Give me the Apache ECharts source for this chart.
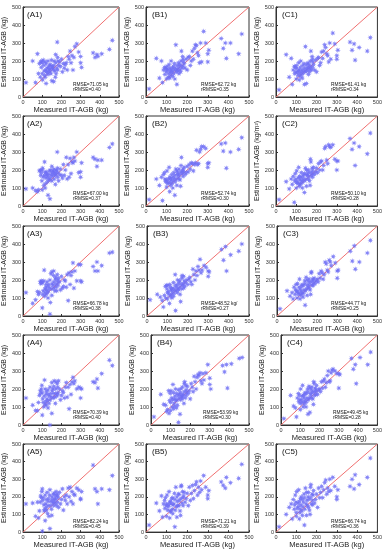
<!DOCTYPE html>
<html>
<head>
<meta charset="utf-8">
<script src="https://cdn.jsdelivr.net/npm/echarts@6/dist/echarts.min.js"></script>
<style>html,body{margin:0;padding:0;background:#fff}#c{width:385px;height:550px}</style>
</head>
<body>
<div id="c"></div>
<script>
// Measured IT-AGB (kg), shared by all panels
const measured = [15,50,65,75,80,85,90,92,95,98,
100,100,102,105,108,110,112,115,115,118,
120,120,122,125,128,130,130,132,135,138,
140,140,142,145,148,150,150,152,155,158,
160,160,162,165,168,170,170,172,175,178,
180,180,182,185,190,195,200,205,210,215,
220,225,230,235,240,245,250,255,260,265,
270,280,290,300,300,305,365,375,385,390,
410,450,465];

const estA1 = [80,200,80,240,130,185,110,195,165,200,
190,130,95,205,175,145,120,195,110,150,
75,185,140,160,135,200,125,165,150,175,
140,155,180,130,205,160,90,170,165,150,
85,175,200,145,110,235,190,130,160,305,
150,220,200,175,195,170,210,140,185,160,
180,190,150,225,210,255,190,230,150,220,
280,295,250,225,190,165,245,220,235,225,
240,265,315];
const estA2 = [95,100,85,80,90,195,200,170,185,140,
200,90,210,160,115,170,245,100,185,125,
190,155,170,180,135,60,175,160,145,195,
40,150,200,175,165,220,140,185,195,170,
190,205,150,180,120,180,170,200,195,300,
210,160,185,140,175,205,170,155,230,170,
200,270,150,230,160,265,180,245,240,270,
250,300,185,190,160,240,270,260,220,255,
255,325,345];
const estA3 = [130,70,90,135,120,130,190,180,195,185,
45,185,120,140,195,255,110,150,130,160,
175,120,145,190,130,165,100,140,175,155,
10,200,75,235,150,245,115,180,170,225,
155,250,190,140,205,175,215,160,140,230,
185,200,170,210,190,145,220,155,165,200,
195,160,230,85,240,175,225,245,295,155,
250,195,285,285,195,190,275,250,300,250,
280,350,355];
const estA4 = [150,110,80,80,125,165,190,175,200,220,
55,180,145,125,100,160,250,115,200,130,
170,110,185,145,135,195,95,170,120,160,
0,210,140,175,155,235,65,190,200,150,
175,215,245,155,120,200,175,240,160,230,
170,210,180,245,200,140,165,190,180,150,
210,235,155,210,90,225,170,240,265,230,
245,200,210,150,205,200,240,235,255,205,
285,360,330];
const estA5 = [160,165,90,170,80,120,170,205,195,230,
5,245,180,195,155,120,130,65,210,160,
140,185,125,225,105,175,150,190,90,210,
20,240,150,175,130,200,95,185,165,215,
175,150,220,190,165,205,185,230,150,215,
205,170,195,140,225,160,185,245,125,200,
180,210,160,250,200,255,175,230,160,215,
210,250,240,185,190,230,380,245,230,160,
245,240,320];
const estB1 = [45,215,105,200,80,150,165,125,160,140,
155,100,170,150,110,130,180,105,160,140,
150,120,200,135,160,115,145,170,130,185,
100,160,150,290,140,175,70,155,145,190,
165,130,180,150,140,200,175,255,160,225,
210,170,195,185,160,210,150,220,225,175,
200,255,210,270,290,285,245,230,190,300,
195,365,300,240,195,260,325,270,300,215,
300,240,350];
const estB2 = [35,150,115,160,30,175,185,150,135,145,
140,105,195,125,130,150,215,80,160,130,
145,115,155,175,125,140,100,160,185,150,
60,170,135,205,150,195,115,175,185,165,
150,205,175,145,110,225,190,270,180,195,
205,165,190,215,175,185,220,190,230,205,
240,235,195,230,240,310,230,235,300,315,
330,330,320,235,215,240,345,305,350,210,
300,315,380];
const estB3 = [90,120,105,85,50,115,165,100,170,150,
130,95,170,135,120,70,175,110,160,145,
120,150,100,135,155,110,185,125,145,230,
30,170,140,160,130,175,200,150,145,185,
160,195,120,80,175,210,150,225,170,180,
220,155,195,165,185,200,175,205,215,190,
175,260,230,200,250,225,275,255,315,240,
255,280,270,250,220,245,370,310,385,250,
340,360,400];
const estB4 = [45,170,115,110,75,85,190,65,135,175,
125,80,190,150,100,140,225,90,180,120,
145,105,160,200,135,95,175,140,110,165,
15,195,150,170,60,180,140,200,160,155,
145,210,170,165,120,230,185,240,150,220,
165,195,180,215,175,190,145,230,210,185,
270,240,200,265,280,275,290,245,230,285,
250,290,335,260,225,200,330,295,335,205,
340,370,375];
const estB5 = [40,165,120,205,85,160,180,135,195,150,
160,90,210,125,145,155,230,80,170,120,
175,115,160,190,130,105,195,155,160,220,
30,185,125,255,145,200,85,175,150,215,
150,215,180,120,95,260,190,265,165,230,
195,150,205,225,170,190,220,150,255,180,
220,265,190,235,270,285,210,255,225,290,
240,320,255,210,190,235,285,265,250,310,
280,305,385];
const estC1 = [40,235,110,215,70,150,170,130,165,140,
175,100,160,135,120,145,190,95,150,130,
165,115,200,140,125,150,105,175,135,185,
70,160,145,280,140,180,75,160,150,190,
165,125,180,140,155,200,170,255,150,225,
210,165,195,180,150,205,140,215,220,175,
190,250,215,255,290,275,240,230,195,300,
210,355,295,230,210,260,305,260,295,205,
275,255,330];
const estC2 = [35,135,95,150,120,165,20,140,180,150,
130,100,195,135,125,155,215,110,165,125,
145,120,160,185,140,130,100,165,150,175,
75,180,140,210,150,200,110,175,170,185,
150,200,165,140,115,260,185,245,170,210,
195,160,180,215,175,190,210,185,235,200,
245,250,200,225,320,330,255,235,340,330,
325,340,260,250,200,250,375,315,350,225,
330,290,405];
const estC3 = [40,140,110,130,95,160,120,145,175,140,
135,100,180,130,120,160,205,95,150,125,
140,115,165,175,130,125,105,170,145,195,
60,180,140,215,150,200,115,170,160,190,
155,205,175,145,120,240,190,245,170,205,
200,170,185,210,180,195,205,190,235,210,
250,240,205,230,300,290,255,245,310,300,
280,330,295,250,210,255,360,305,390,260,
300,350,420];
const estC4 = [35,165,105,95,45,150,175,130,165,140,
120,85,200,140,125,160,220,100,165,130,
150,115,170,180,135,125,100,175,150,200,
60,185,140,215,150,205,70,175,165,195,
150,210,180,145,115,240,185,230,165,205,
195,170,185,220,170,195,200,185,240,205,
245,255,210,235,275,300,240,245,290,305,
310,300,285,205,285,280,370,310,335,230,
375,335,405];
const estC5 = [30,100,140,160,75,185,130,155,210,170,
110,90,230,135,165,145,240,75,175,110,
190,130,155,200,120,95,185,145,170,215,
40,195,130,250,160,225,95,180,150,200,
140,225,185,125,100,255,195,270,160,215,
180,155,210,235,165,185,215,140,250,195,
225,260,195,240,280,295,215,250,230,300,
235,310,260,200,185,240,260,300,245,325,
270,310,420];

const panelNames = ['(A1)','(B1)','(C1)','(A2)','(B2)','(C2)','(A3)','(B3)','(C3)','(A4)','(B4)','(C4)','(A5)','(B5)','(C5)'];
const panelEst = [estA1,estB1,estC1,estA2,estB2,estC2,estA3,estB3,estC3,estA4,estB4,estC4,estA5,estB5,estC5];
const rmseText = ['RMSE=71.05 kg','RMSE=62.72 kg','RMSE=61.41 kg','RMSE=67.00 kg','RMSE=52.74 kg','RMSE=50.10 kg','RMSE=66.78 kg','RMSE=48.52 kg/','RMSE=44.77 kg','RMSE=70.39 kg','RMSE=53.99 kg','RMSE=49.45 kg','RMSE=82.24 kg','RMSE=71.21 kg','RMSE=66.74 kg'];
const rrmseText = ['rRMSE=0.40','rRMSE=0.35','rRMSE=0.34','rRMSE=0.37','rRMSE=0.30','rRMSE=0.28','rRMSE=0.38','rRMSE=0.27','rRMSE=0.25','rRMSE=0.40','rRMSE=0.30','rRMSE=0.28','rRMSE=0.45','rRMSE=0.39','rRMSE=0.36'];
const yNames = ['Estimated IT-AGB (kg)','Estimated IT-AGB (kg)','Estimated IT-AGB (kg)','Estimated IT-AGB (kg)','Estimated IT-AGB (kg)','Estimated IT-AGB (kg/m²)','Estimated IT-AGB (kg)','Estimated IT-AGB (kg)','Estimated IT-AGB (kg)','Estimated IT-AGB (kg)','Estimated IT-AGB (kg)','Estimated IT-AGB (kg)','Estimated IT-AGB (kg)','Estimated IT-AGB (kg)','Estimated IT-AGB (kg)'];
const xName = 'Measured IT-AGB (kg)';
const axisTicks = [0,100,200,300,400,500];
const oneToOne = [0,500];

// layout
const lefts = [[21,146,276],[21,146,276],[21,147,277],[21,151,281],[21,146,276]];
const rights = [119,249,379];
const tops = [7,116,226,335,444];
const H = 90;

const FONT = 'Liberation Sans, Arial, sans-serif';
const star = 'path://M10,0 L3.7,1.53 L7.07,7.07 L1.53,3.7 L0,10 L-1.53,3.7 L-7.07,7.07 L-3.7,1.53 L-10,0 L-3.7,-1.53 L-7.07,-7.07 L-1.53,-3.7 L0,-10 L1.53,-3.7 L7.07,-7.07 L3.7,-1.53 Z';

const grid=[], xAxis=[], yAxis=[], series=[], graphic=[];
for (let i=0;i<15;i++){
  const r=Math.floor(i/3), c=i%3;
  const L=lefts[r][c], T=tops[r], W=rights[c]-L;
  grid.push({left:L, top:T, width:W, height:H, show:true, borderColor:'#333', borderWidth:1, backgroundColor:'transparent'});
  const axBase = {
    gridIndex:i, type:'value', min:axisTicks[0], max:axisTicks[axisTicks.length-1], interval:100,
    axisLine:{show:true,onZero:false,lineStyle:{color:'#333',width:1}},
    axisTick:{show:true,inside:true,length:2,lineStyle:{color:'#333'}},
    splitLine:{show:false},
    axisLabel:{fontSize:5.5,color:'#333',margin:2,fontFamily:FONT},
    nameLocation:'middle'
  };
  xAxis.push(Object.assign({}, axBase, {name:xName, nameGap:8, nameTextStyle:{fontSize:7.5,color:'#222',fontFamily:FONT}}));
  yAxis.push(Object.assign({}, axBase, {name:yNames[i], nameGap:12, nameTextStyle:{fontSize:7,color:'#222',fontFamily:FONT}}));
  series.push({
    type:'line', xAxisIndex:i, yAxisIndex:i, data:[[oneToOne[0],oneToOne[0]],[oneToOne[1],oneToOne[1]]],
    symbol:'none', lineStyle:{color:'#f07070',width:1}, silent:true, z:2
  });
  series.push({
    type:'scatter', xAxisIndex:i, yAxisIndex:i,
    data: measured.map((m,k)=>[m, panelEst[i][k]]),
    symbol:star, symbolSize:6,
    itemStyle:{color:'#6f6ff5', opacity:0.85}, z:3
  });
  graphic.push({type:'text', left:L+6, top:T+4, style:{text:panelNames[i], font:'8px '+FONT, fill:'#111'}});
  graphic.push({type:'text', left:L+Math.round(W*0.53), top:T+H-15, style:{text:rmseText[i], font:'4.8px '+FONT, fill:'#111'}});
  graphic.push({type:'text', left:L+Math.round(W*0.53), top:T+H-10, style:{text:rrmseText[i], font:'4.8px '+FONT, fill:'#111'}});
}

const chart = echarts.init(document.getElementById('c'), null, {renderer:'canvas'});
chart.setOption({animation:false, backgroundColor:'#fff', grid, xAxis, yAxis, series, graphic});
</script>
</body>
</html>
